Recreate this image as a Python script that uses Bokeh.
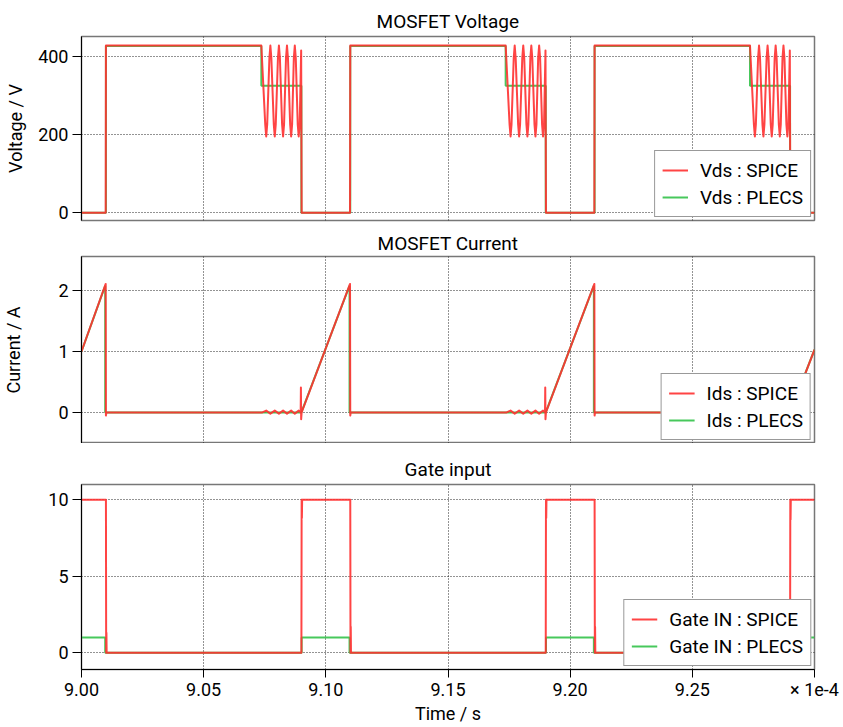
from bokeh.plotting import figure
from bokeh.layouts import column
from bokeh.models import Range1d, FixedTicker, CustomJSTickFormatter, Legend, LegendItem
from bokeh.embed import file_html
from bokeh.resources import INLINE

# time axis in units of 1e-4 s
X_TICKS = [9.00, 9.05, 9.10, 9.15, 9.20, 9.25, 9.30]

# ---- MOSFET Voltage ----
T_VDS_SPICE = [9.0000, 9.0099, 9.0100, 9.0736,
               9.0752, 9.0756, 9.0760, 9.0769, 9.0773, 9.0777, 9.0787, 9.0791, 9.0795, 9.0804, 9.0808, 9.0812,
               9.0821, 9.0825, 9.0829, 9.0837, 9.0841, 9.0845, 9.0854, 9.0858, 9.0862, 9.0869, 9.0873, 9.0877,
               9.0885, 9.0889, 9.0893, 9.0899, 9.0901,
               9.1099, 9.1100, 9.1736,
               9.1752, 9.1756, 9.1760, 9.1769, 9.1773, 9.1777, 9.1787, 9.1791, 9.1795, 9.1804, 9.1808, 9.1812,
               9.1821, 9.1825, 9.1829, 9.1837, 9.1841, 9.1845, 9.1854, 9.1858, 9.1862, 9.1869, 9.1873, 9.1877,
               9.1885, 9.1889, 9.1893, 9.1899, 9.1901,
               9.2099, 9.2100, 9.2736,
               9.2752, 9.2756, 9.2760, 9.2769, 9.2773, 9.2777, 9.2787, 9.2791, 9.2795, 9.2804, 9.2808, 9.2812,
               9.2821, 9.2825, 9.2829, 9.2837, 9.2841, 9.2845, 9.2854, 9.2858, 9.2862, 9.2869, 9.2873, 9.2877,
               9.2885, 9.2889, 9.2893, 9.2899, 9.2901, 9.3000]
V_VDS_SPICE = [0, 0, 428, 428,
               226, 195, 226, 396, 428, 396, 226, 195, 226, 396, 428, 396,
               226, 195, 226, 396, 428, 396, 226, 195, 226, 396, 428, 396,
               226, 195, 226, 415, 0,
               0, 428, 428,
               226, 195, 226, 396, 428, 396, 226, 195, 226, 396, 428, 396,
               226, 195, 226, 396, 428, 396, 226, 195, 226, 396, 428, 396,
               226, 195, 226, 415, 0,
               0, 428, 428,
               226, 195, 226, 396, 428, 396, 226, 195, 226, 396, 428, 396,
               226, 195, 226, 396, 428, 396, 226, 195, 226, 396, 428, 396,
               226, 195, 226, 415, 0, 0]
T_VDS_PLECS = [9.0000, 9.0100, 9.0100, 9.0736, 9.0736, 9.0900, 9.0900,
               9.1100, 9.1100, 9.1736, 9.1736, 9.1900, 9.1900,
               9.2100, 9.2100, 9.2736, 9.2736, 9.2900, 9.2900, 9.3000]
V_VDS_PLECS = [0, 0, 427, 427, 325, 325, 0,
               0, 427, 427, 325, 325, 0,
               0, 427, 427, 325, 325, 0, 0]

# ---- MOSFET Current ----
T_IDS_SPICE = [9.0000, 9.0099, 9.0100, 9.0102, 9.0740, 9.0756, 9.0773, 9.0791, 9.0808, 9.0825, 9.0841, 9.0858, 9.0873, 9.0889, 9.0897, 9.0898, 9.0899, 9.0901,
               9.1099, 9.1100, 9.1102, 9.1740, 9.1756, 9.1773, 9.1791, 9.1808, 9.1825, 9.1841, 9.1858, 9.1873, 9.1889, 9.1897, 9.1898, 9.1899, 9.1901,
               9.2099, 9.2100, 9.2102, 9.2740, 9.2756, 9.2773, 9.2791, 9.2808, 9.2825, 9.2841, 9.2858, 9.2873, 9.2889, 9.2897, 9.2898, 9.2899, 9.2901,
               9.3000]
I_IDS_SPICE = [1.00, 2.11, -0.05, 0, 0, 0.03, -0.02, 0.03, -0.02, 0.03, -0.02, 0.03, -0.02, 0.03, 0, 0.41, -0.11, 0,
               2.11, -0.05, 0, 0, 0.03, -0.02, 0.03, -0.02, 0.03, -0.02, 0.03, -0.02, 0.03, 0, 0.41, -0.11, 0,
               2.11, -0.05, 0, 0, 0.03, -0.02, 0.03, -0.02, 0.03, -0.02, 0.03, -0.02, 0.03, 0, 0.41, -0.11, 0,
               1.03]
T_IDS_PLECS = [9.0000, 9.0097, 9.0097, 9.0900, 9.1097, 9.1097, 9.1900, 9.2097, 9.2097, 9.2900, 9.3000]
I_IDS_PLECS = [1.00, 2.08, 0, 0, 2.08, 0, 0, 2.08, 0, 0, 1.03]

# ---- Gate input ----
T_GATE_SPICE = [9.0000, 9.0100, 9.0101, 9.0102, 9.0103, 9.0900, 9.0901, 9.0902, 9.0903,
                9.1100, 9.1101, 9.1102, 9.1103, 9.1900, 9.1901, 9.1902, 9.1903,
                9.2100, 9.2101, 9.2102, 9.2103, 9.2900, 9.2901, 9.2902, 9.2903, 9.3000]
G_GATE_SPICE = [10, 10, 0, 1.3, 0, 0, 10, 8.8, 10,
                10, 0, 1.7, 0, 0, 10, 8.8, 10,
                10, 0, 1.7, 0, 0, 10, 8.7, 10, 10]
T_GATE_PLECS = [9.0000, 9.0097, 9.0097, 9.0901, 9.0901, 9.1097, 9.1097, 9.1901, 9.1901, 9.2097, 9.2097, 9.2901, 9.2901, 9.3000]
G_GATE_PLECS = [1, 1, 0, 0, 1, 1, 0, 0, 1, 1, 0, 0, 1, 1]

RED = "#ff3030"
GREEN = "#33c24a"
FONT = "Roboto"
FS = "18px"
FS_BIG = "19px"

xr = Range1d(9.0, 9.3)


def make_fig(title, ylabel, yr, yticks, top, frame_h, bottom, show_x, label_standoff, title_standoff):
    p = figure(width=843, height=top + frame_h + bottom, x_range=xr, y_range=Range1d(*yr),
               output_backend="svg", toolbar_location=None,
               min_border_left=81, min_border_right=29, min_border_top=top, min_border_bottom=bottom)
    p.title.text = title
    p.title.text_font = FONT
    p.title.text_font_size = FS_BIG
    p.title.text_font_style = "normal"
    p.title.align = "center"
    p.title.text_color = "black"
    p.title.standoff = title_standoff
    p.title.offset = 0
    p.outline_line_color = "#777777"
    p.outline_line_width = 1.5
    p.background_fill_color = "white"
    p.border_fill_color = "white"

    p.yaxis.ticker = FixedTicker(ticks=yticks)
    p.yaxis.axis_label = ylabel
    p.yaxis.axis_label_text_font = FONT
    p.yaxis.axis_label_text_font_size = FS
    p.yaxis.axis_label_text_font_style = "normal"
    p.yaxis.axis_label_text_color = "black"
    p.yaxis.axis_label_standoff = label_standoff
    p.yaxis.major_label_text_font = FONT
    p.yaxis.major_label_text_font_size = FS
    p.yaxis.major_label_text_color = "black"
    p.yaxis.major_tick_in = 0
    p.yaxis.major_tick_out = 9
    p.yaxis.major_label_standoff = 4
    p.yaxis.minor_tick_line_color = None
    p.yaxis.axis_line_color = "black"
    p.yaxis.major_tick_line_color = "black"

    p.xgrid.ticker = FixedTicker(ticks=X_TICKS)
    for g in (p.xgrid, p.ygrid):
        g.grid_line_color = "black"
        g.grid_line_dash = "1 2"
        g.grid_line_alpha = 0.85
        g.grid_line_width = 1

    if show_x:
        p.xaxis.ticker = FixedTicker(ticks=X_TICKS)
        p.xaxis.formatter = CustomJSTickFormatter(
            code="return Math.abs(tick - 9.3) < 1e-6 ? '\u00d7 1e-4' : tick.toFixed(2);")
        p.xaxis.axis_label = "Time / s"
        p.xaxis.axis_label_text_font = FONT
        p.xaxis.axis_label_text_font_size = FS
        p.xaxis.axis_label_text_font_style = "normal"
        p.xaxis.axis_label_text_color = "black"
        p.xaxis.axis_label_standoff = 0
        p.xaxis.major_label_text_font = FONT
        p.xaxis.major_label_text_font_size = FS
        p.xaxis.major_label_text_color = "black"
        p.xaxis.major_tick_in = 0
        p.xaxis.major_tick_out = 8
        p.xaxis.major_label_standoff = 1
        p.xaxis.minor_tick_line_color = None
        p.xaxis.axis_line_color = "black"
    else:
        p.xaxis.visible = False
    return p


def add_lines(p, t_sp, y_sp, t_pl, y_pl, name):
    g = p.line(t_pl, y_pl, line_color=GREEN, line_width=2, line_alpha=0.9)
    r = p.line(t_sp, y_sp, line_color=RED, line_width=2, line_alpha=0.9, line_join="round")
    leg = Legend(items=[LegendItem(label=name + " : SPICE", renderers=[r]),
                        LegendItem(label=name + " : PLECS", renderers=[g])],
                 location="bottom_right")
    leg.label_text_font = FONT
    leg.label_text_font_size = FS_BIG
    leg.label_text_color = "black"
    leg.border_line_color = "#333333"
    leg.border_line_width = 1
    leg.background_fill_alpha = 1
    leg.glyph_width = 26
    leg.label_height = 24
    leg.glyph_height = 24
    leg.spacing = 3
    leg.padding = 7
    leg.margin = 3
    leg.label_standoff = 12
    p.add_layout(leg)


p1 = make_fig("MOSFET Voltage", "Voltage / V", (-20, 451), [0, 200, 400], 36, 184, 8, False, 9, 7)
add_lines(p1, T_VDS_SPICE, V_VDS_SPICE, T_VDS_PLECS, V_VDS_PLECS, "Vds")

p2 = make_fig("MOSFET Current", "Current / A", (-0.51, 2.56), [0, 1, 2], 28, 187, 0, False, 31, 3)
add_lines(p2, T_IDS_SPICE, I_IDS_SPICE, T_IDS_PLECS, I_IDS_PLECS, "Ids")

p3 = make_fig("Gate input", "", (-1.1, 11), [0, 5, 10], 41, 185, 58, True, 9, 7)
add_lines(p3, T_GATE_SPICE, G_GATE_SPICE, T_GATE_PLECS, G_GATE_PLECS, "Gate IN")

layout = column(p1, p2, p3, spacing=0)
open("out.html", "w").write(file_html(layout, INLINE))
